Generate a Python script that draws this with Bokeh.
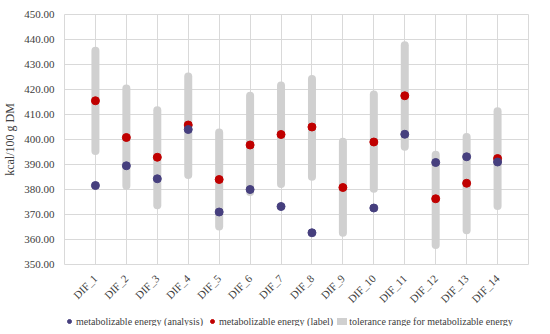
import math
from bokeh.plotting import figure
from bokeh.layouts import column
from bokeh.models import ColumnDataSource, FactorRange, Legend, LegendItem, SingleIntervalTicker, CustomJSTickFormatter
from bokeh.embed import file_html
from bokeh.resources import INLINE

categories = ["DIF_1", "DIF_2", "DIF_3", "DIF_4", "DIF_5", "DIF_6", "DIF_7",
              "DIF_8", "DIF_9", "DIF_10", "DIF_11", "DIF_12", "DIF_13", "DIF_14"]
me_analysis = [381.6, 389.5, 384.3, 404.0, 371.0, 380.0, 373.2,
               362.7, float("nan"), 372.6, 402.1, 390.8, 393.1, 391.0]
me_label = [415.5, 400.8, 392.9, 405.8, 384.0, 397.8, 402.0,
            405.0, 380.8, 399.0, 417.5, 376.3, 382.5, 392.4]
tol_low = [395.4, 381.5, 373.7, 385.8, 365.2, 379.0, 382.2,
           385.1, 362.7, 380.3, 397.1, 357.8, 363.7, 373.4]
tol_high = [435.5, 420.4, 411.7, 425.2, 402.8, 417.5, 421.6,
            424.2, 399.1, 418.0, 437.7, 393.9, 401.0, 411.3]
series_names = ["metabolizable energy (analysis)",
                "metabolizable energy (label)",
                "tolerance range for metabolizable energy"]

src = ColumnDataSource(dict(cat=categories, a=me_analysis, l=me_label,
                            lo=tol_low, hi=tol_high))

FONT = "Liberation Serif"
TXT = "#404040"
GRID = "#d9d9d9"
C_ANA = "#463f7e"
C_LAB = "#c00000"
C_TOL = "#d0d0d0"

p = figure(width=534, height=312, output_backend="svg", toolbar_location=None,
           x_range=FactorRange(factors=categories, range_padding=0.5,
                               range_padding_units="absolute"),
           y_range=(350, 450))
p.min_border_left = 52
p.min_border_right = 6
p.min_border_top = 14
p.min_border_bottom = 43

p.segment(x0="cat", x1="cat", y0="lo", y1="hi", source=src,
          line_width=8, line_color=C_TOL, line_cap="round")
p.scatter(x="cat", y="l", source=src, size=8, fill_color=C_LAB, line_color=C_LAB)
p.scatter(x="cat", y="a", source=src, size=8, fill_color=C_ANA, line_color=C_ANA)

p.yaxis.ticker = SingleIntervalTicker(interval=10)
p.yaxis.formatter = CustomJSTickFormatter(code="return tick.toFixed(2);")
p.yaxis.axis_label = "kcal/100 g DM"
p.yaxis.axis_label_text_font = FONT
p.yaxis.axis_label_text_font_size = "12px"
p.yaxis.axis_label_text_font_style = "normal"
p.yaxis.axis_label_text_color = TXT
p.yaxis.axis_label_standoff = 4

for ax in (p.xaxis, p.yaxis):
    ax.axis_line_color = None
    ax.major_tick_line_color = None
    ax.minor_tick_line_color = None
    ax.major_tick_in = 0
    ax.major_tick_out = 0
    ax.major_label_text_font = FONT
    ax.major_label_text_font_size = "11px"
    ax.major_label_text_color = TXT
p.yaxis.major_label_standoff = 6
p.xaxis.major_label_orientation = math.pi / 4
p.xaxis.major_label_standoff = 12

p.xgrid.grid_line_color = GRID
p.ygrid.grid_line_color = GRID
p.outline_line_color = GRID
p.background_fill_color = "white"
p.border_fill_color = "white"

# legend strip
lg = figure(width=534, height=14, output_backend="svg", toolbar_location=None,
            x_axis_type=None, y_axis_type=None, x_range=(0, 1), y_range=(0, 1))
lg.min_border = 0
lg.outline_line_color = None
lg.xgrid.visible = False
lg.ygrid.visible = False
d_ana = lg.scatter(x=[-5], y=[-5], size=8, fill_color=C_ANA, line_color=C_ANA)
d_lab = lg.scatter(x=[-5], y=[-5], size=8, fill_color=C_LAB, line_color=C_LAB)
d_tol = lg.segment(x0=[-5], x1=[-4], y0=[-5], y1=[-5], line_width=7,
                   line_color=C_TOL, line_cap="round")

legend = Legend(items=[
    LegendItem(label=series_names[0], renderers=[d_ana]),
    LegendItem(label=series_names[1], renderers=[d_lab]),
    LegendItem(label=series_names[2], renderers=[d_tol]),
], orientation="horizontal", location=(0, -1))
legend.label_text_font = FONT
legend.label_text_font_size = "10px"
legend.label_text_color = TXT
legend.border_line_color = None
legend.background_fill_alpha = 0
legend.glyph_width = 10
legend.glyph_height = 12
legend.label_standoff = 2
legend.spacing = 4
legend.padding = 1
legend.margin = 0
lg.add_layout(legend, "center")

layout = column(p, lg, spacing=0)
open("out.html", "w").write(file_html(layout, INLINE))
